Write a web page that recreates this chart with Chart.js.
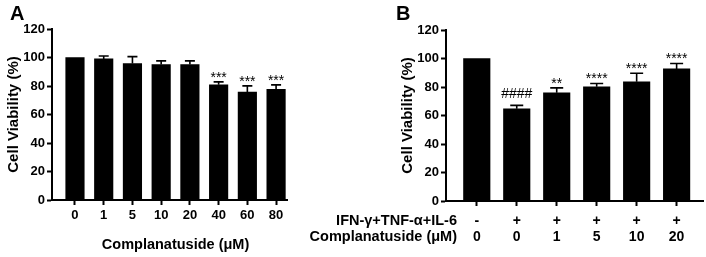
<!DOCTYPE html>
<html><head><meta charset="utf-8">
<script src="https://cdn.jsdelivr.net/npm/chart.js@4/dist/chart.umd.min.js"></script>
<style>
html,body{margin:0;padding:0;background:#fff;}
body{width:706px;height:257px;overflow:hidden;position:relative;}
#ca{position:absolute;left:0;top:0;}
#cb{position:absolute;left:300px;top:0;}
</style></head><body>
<canvas id="ca" width="300" height="257"></canvas>
<canvas id="cb" width="406" height="257"></canvas>
<script>
// ---- Data ----
const concA = ['0', '1', '5', '10', '20', '40', '60', '80'];
const meanA = [100, 99.0, 95.8, 95.1, 95.1, 80.8, 75.7, 77.6];
const errA  = [0, 2.1, 4.8, 2.5, 2.5, 2.1, 4.4, 3.2];
const sigA  = ['', '', '', '', '', '***', '***', '***'];

const stimB = ['-', '+', '+', '+', '+', '+'];
const concB = ['0', '0', '1', '5', '10', '20'];
const meanB = [100, 64.7, 75.9, 80.1, 83.6, 92.7];
const errB  = [0, 2.4, 3.5, 2.4, 6.1, 3.8];
const sigB  = ['', '####', '**', '****', '****', '****'];

const yTicks = [0, 20, 40, 60, 80, 100, 120];
const yTitle = 'Cell Viability (%)';
const xTitleA = 'Complanatuside (μM)';
const rowTitlesB = ['IFN-γ+TNF-α+IL-6', 'Complanatuside (μM)'];

const FAM = '"Liberation Sans", Arial, Helvetica, sans-serif';
Chart.defaults.font.family = FAM;
Chart.defaults.color = '#000';

function errPlugin(means, errs, sigs, capW, sigFont) {
  return {
    id: 'errbars',
    afterDatasetsDraw(chart) {
      const ctx = chart.ctx, xs = chart.scales.x, ys = chart.scales.y;
      ctx.save();
      ctx.strokeStyle = '#000';
      ctx.lineWidth = 1.6;
      means.forEach((m, i) => {
        const x = xs.getPixelForValue(i);
        const yb = ys.getPixelForValue(m);
        const yt = ys.getPixelForValue(m + errs[i]);
        if (errs[i] > 0) {
          ctx.beginPath();
          ctx.moveTo(x, yb); ctx.lineTo(x, yt);
          ctx.moveTo(x - capW / 2, yt); ctx.lineTo(x + capW / 2, yt);
          ctx.stroke();
        }
        if (sigs[i]) {
          ctx.fillStyle = '#000';
          ctx.font = sigFont;
          ctx.textAlign = 'center';
          ctx.textBaseline = 'alphabetic';
          const off = sigs[i].startsWith('#') ? 7 : 0;
          ctx.fillText(sigs[i], x, yt - off);
        }
      });
      ctx.restore();
    }
  };
}

function textPlugin(items) {
  return {
    id: 'texts',
    afterDraw(chart) {
      const ctx = chart.ctx;
      ctx.save();
      ctx.fillStyle = '#000';
      items(chart).forEach(t => {
        ctx.font = t.font;
        ctx.textAlign = t.align || 'left';
        ctx.textBaseline = t.base || 'alphabetic';
        ctx.fillText(t.text, t.x, t.y);
      });
      ctx.restore();
    }
  };
}

function yScale(width, titlePad) {
  return {
    type: 'linear', min: 0, max: 120,
    afterBuildTicks: s => { s.ticks = yTicks.map(v => ({ value: v })); },
    ticks: { font: { size: 13, weight: 'bold' }, color: '#000', padding: 2 },
    grid: { display: true, drawOnChartArea: false, drawTicks: true, tickLength: 5, tickWidth: 2, color: '#000', offset: false },
    border: { display: true, color: '#000', width: 2 },
    title: { display: true, text: yTitle, font: { size: 15, weight: 'bold' }, color: '#000', padding: { top: titlePad, bottom: 0 } },
    afterFit: s => { s.width = width; }
  };
}

// ---- Panel A ----
new Chart(document.getElementById('ca'), {
  type: 'bar',
  data: { datasets: [{ data: meanA.map((v, i) => ({ x: i, y: v })), backgroundColor: '#000', borderWidth: 0, barThickness: 18.5 }] },
  options: {
    responsive: false, animation: false,
    layout: { padding: { top: 29, right: 13, bottom: 0, left: 0 } },
    plugins: { legend: { display: false }, tooltip: { enabled: false } },
    scales: {
      x: {
        type: 'linear', min: -0.8, max: 7.38, offset: false,
        afterBuildTicks: s => { s.ticks = concA.map((_, i) => ({ value: i })); },
        ticks: { callback: v => concA[v], font: { size: 13, weight: 'bold' }, color: '#000', padding: 3, autoSkip: false, maxRotation: 0 },
        grid: { display: true, drawOnChartArea: false, drawTicks: true, tickLength: 5, tickWidth: 2, color: '#000', offset: false },
        border: { display: true, color: '#000', width: 2 },
        afterFit: s => { s.height = 57; }
      },
      y: yScale(52, 5)
    }
  },
  plugins: [
    errPlugin(meanA, errA, sigA, 10, '14px ' + FAM),
    textPlugin(ch => [
      { text: 'A', x: 10, y: 19.5, font: 'bold 20px ' + FAM },
      { text: xTitleA, x: (ch.scales.x.getPixelForValue(0) + ch.scales.x.getPixelForValue(concA.length - 1)) / 2, y: 245, font: 'bold 14.5px ' + FAM, align: 'center', base: 'middle' }
    ])
  ]
});

// ---- Panel B ----
new Chart(document.getElementById('cb'), {
  type: 'bar',
  data: { datasets: [{ data: meanB.map((v, i) => ({ x: i, y: v })), backgroundColor: '#000', borderWidth: 0, barThickness: 26.5 }] },
  options: {
    responsive: false, animation: false,
    layout: { padding: { top: 30, right: 3, bottom: 0, left: 0 } },
    plugins: { legend: { display: false }, tooltip: { enabled: false } },
    scales: {
      x: {
        type: 'linear', min: -0.77, max: 5.66, offset: false,
        afterBuildTicks: s => { s.ticks = concB.map((_, i) => ({ value: i })); },
        ticks: { callback: v => [stimB[v], concB[v]], font: { size: 14, weight: 'bold', lineHeight: 1.15 }, color: '#000', padding: 7, autoSkip: false, maxRotation: 0 },
        grid: { display: true, drawOnChartArea: false, drawTicks: true, tickLength: 5, tickWidth: 2, color: '#000', offset: false },
        border: { display: true, color: '#000', width: 2 },
        afterFit: s => { s.height = 56; }
      },
      y: yScale(146, 99)
    }
  },
  plugins: [
    errPlugin(meanB, errB, sigB, 13, '14px ' + FAM),
    textPlugin(ch => [
      { text: 'B', x: 96, y: 19.5, font: 'bold 20px ' + FAM },
      { text: rowTitlesB[0], x: 157, y: 221, font: 'bold 14.5px ' + FAM, align: 'right', base: 'middle' },
      { text: rowTitlesB[1], x: 157, y: 237, font: 'bold 14.5px ' + FAM, align: 'right', base: 'middle' }
    ])
  ]
});
</script>
</body></html>
